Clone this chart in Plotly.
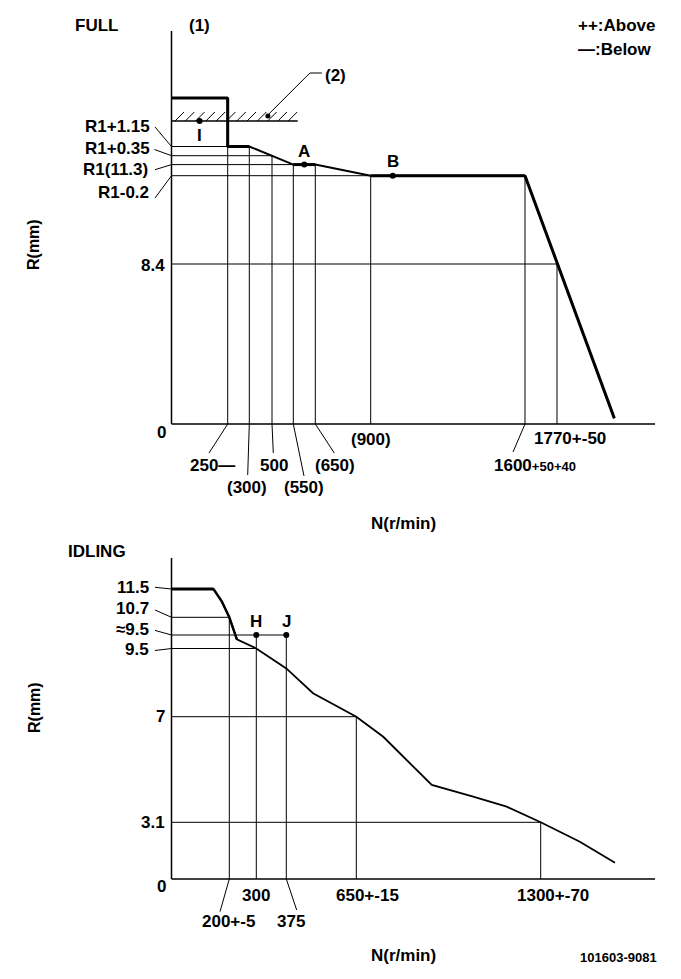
import numpy as np
import plotly.graph_objects as go

W, H = 681, 979
INK = "black"
FONT = "Liberation Sans, Arial, sans-serif"
FS = 17

# ======================= FULL (upper diagram) =======================
full_rpm = [0, 250, 250, 300, 550, 650, 900, 1600, 2080]
full_R = [14.3, 14.3, 12.45, 12.45, 11.3, 11.3, 11.1, 11.1, 0.3]
full_thick_segments = [(0, 1), (1, 2), (2, 3), (4, 5), (6, 7), (7, 8)]

full_limit_R = 13.3          # stop line (2)
full_limit_rpm_end = 570

full_point_names = ["I", "A", "B"]
full_point_rpm = [125, 600, 1000]
full_point_R = [13.3, 11.3, 11.1]

full_ytick_vals = [12.45, 11.65, 11.3, 11.1, 8.4, 0]
full_ytick_text = ["R1+1.15", "R1+0.35", "R1(11.3)", "R1-0.2", "8.4", "0"]

full_hline_R = [12.45, 11.65, 11.3, 11.1, 8.4]
full_hline_rpm_end = [250, 500, 550, 900, 1770]

full_vline_rpm = [250, 300, 500, 550, 650, 900, 1600, 1770]
full_vline_R_top = [12.45, 12.45, 11.65, 11.3, 11.3, 11.1, 11.1, 8.4]

full_xtick_vals = [250, 300, 500, 550, 650, 900, 1600, 1770]
full_xtick_text = ["250—", "(300)", "500", "(550)", "(650)", "(900)",
                   "1600<span style='font-size:13px'>+50+40</span>", "1770+-50"]

full_axis_max_rpm = 2300
full_axis_max_R = 16.0

# ======================= IDLING (lower diagram) =======================
idle_rpm = [0, 145, 174, 200, 228, 300, 375, 396, 480, 650, 745, 792, 916,
            1062, 1180, 1300, 1437, 1560]
idle_R = [11.5, 11.5, 11.15, 10.7, 9.77, 9.5, 8.77, 8.59, 7.86, 7.0, 6.26,
          5.77, 4.48, 4.05, 3.68, 3.1, 2.04, 0.89]
idle_thick_upto = 1     # index of last point of the heavy segment
idle_medium_upto = 4

idle_point_names = ["H", "J"]
idle_point_rpm = [300, 375]
idle_point_R = [9.9, 9.9]

idle_ytick_vals = [11.5, 10.7, 9.9, 9.5, 7, 3.1, 0]
idle_ytick_text = ["11.5", "10.7", "≈9.5", "9.5", "7", "3.1", "0"]

idle_hline_R = [10.7, 9.9, 9.5, 7, 3.1]
idle_hline_rpm_end = [200, 375, 300, 650, 1300]

idle_vline_rpm = [200, 300, 375, 650, 1300]
idle_vline_R_top = [10.7, 9.9, 9.9, 7, 3.1]

idle_xtick_vals = [200, 300, 375, 650, 1300]
idle_xtick_text = ["200+-5", "300", "375", "650+-15", "1300+-70"]

idle_axis_max_rpm = 1700
idle_axis_max_R = 12.8

# ---------------- schematic drawing scales (value -> px from origin) ----------------
FULL_X_SCALE_V = [0, 250, 300, 500, 550, 650, 900, 1600, 1770, 2300]
FULL_X_SCALE_P = [0, 56.2, 77.8, 100.5, 121.8, 143.8, 199.2, 353.5, 385.5, 483.5]
FULL_Y_SCALE_V = [0, 8.4, 11.1, 11.3, 11.65, 12.45, 13.3, 14.3, 16.0]
FULL_Y_SCALE_P = [0, 160, 248.3, 259.4, 268.3, 277.5, 303, 326, 393]

IDLE_X_SCALE_V = [0, 200, 300, 375, 650, 1300, 1700]
IDLE_X_SCALE_P = [0, 57.8, 84.8, 114.8, 184.8, 369.2, 483.5]
IDLE_Y_SCALE_V = [0, 3.1, 7, 9.5, 9.9, 10.7, 11.5, 12.8]
IDLE_Y_SCALE_P = [0, 56.7, 162.3, 230.5, 244, 261.7, 290, 321]

# origins of the two diagrams on the page (px)
FULL_ORIGIN = (171.5, 424)
IDLE_ORIGIN = (171.5, 879)

# label placement (pixel offsets from the tick point: dx right, dy down)
full_ylabel_layout = [(-20.5, -20.5, "right", (-16.5, -19.5)),
                      (-20.5, -7.2, "right", (-17, -6.2)),
                      (-22.5, 4.9, "right", (-16.5, 5.1)),
                      (-21.5, 16.8, "right", (-16.5, 22.3)),
                      (-5.5, 1, "right", None),
                      (-10.5, 8, "center", None)]
full_xlabel_layout = [(-15.2, 41, (-18.7, 29)), (-2.3, 63, (-1.6, 51)),
                      (1.5, 41, (1.3, 29)), (10.7, 63, (10.7, 52)),
                      (19.7, 41, (19, 29)), (0.3, 15, None),
                      (10, 41, (-12, 28)), (13, 14, None)]
idle_ylabel_layout = [(-21.5, -2, "right", (-16.5, -1.7)),
                      (-21.5, -9.3, "right", (-16.5, -7.3)),
                      (-21.5, -5.3, "right", (-16.5, -4.6)),
                      (-21.5, 1.3, "right", (-16.5, 2)),
                      (-5.5, 0, "right", None),
                      (-5.5, 0, "right", None),
                      (-10, 7, "center", None)]
idle_xlabel_layout = [(-1.3, 42, (-9.3, 32.7)), (0, 16, None),
                      (4.7, 42, (10.4, 31)), (10.7, 16, None), (12.3, 16, None)]
full_point_label_dy = [14, -13.6, -14.7]
idle_point_label_dy = [-13.3, -13.3]


def scale(v, sv, sp):
    return np.interp(np.asarray(v, dtype=float), sv, sp)


def wxf(v): return scale(v, FULL_X_SCALE_V, FULL_X_SCALE_P)
def wyf(v): return scale(v, FULL_Y_SCALE_V, FULL_Y_SCALE_P)
def wxi(v): return scale(v, IDLE_X_SCALE_V, IDLE_X_SCALE_P)
def wyi(v): return scale(v, IDLE_Y_SCALE_V, IDLE_Y_SCALE_P)


fig = go.Figure()
TOP = ("x", "y")
BOT = ("x2", "y2")


def add_line(xs, ys, ax, width=1.0):
    fig.add_trace(go.Scatter(x=list(xs), y=list(ys), mode="lines",
                             line=dict(color=INK, width=width),
                             xaxis=ax[0], yaxis=ax[1], hoverinfo="skip",
                             showlegend=False))


def add_dots(xs, ys, ax, size=6):
    fig.add_trace(go.Scatter(x=list(xs), y=list(ys), mode="markers",
                             marker=dict(color=INK, size=size),
                             xaxis=ax[0], yaxis=ax[1], hoverinfo="skip",
                             showlegend=False))


def add_text(text, ax, x, y, dx=0, dy=0, xanchor="center", size=FS, angle=0):
    fig.add_annotation(text=text, xref=ax[0], yref=ax[1], x=x, y=y,
                       xshift=dx, yshift=-dy, xanchor=xanchor, yanchor="middle",
                       showarrow=False, textangle=angle, borderpad=0,
                       font=dict(family=FONT, size=size, color=INK, weight="bold"))


def add_page_text(text, px, py, xanchor="center", size=FS, angle=0):
    fig.add_annotation(text=text, xref="paper", yref="paper", x=px / W, y=1 - py / H,
                       xanchor=xanchor, yanchor="middle", showarrow=False,
                       textangle=angle, borderpad=0,
                       font=dict(family=FONT, size=size, color=INK, weight="bold"))


def segs(xs_list, ys_list):
    X, Y = [], []
    for xs, ys in zip(xs_list, ys_list):
        X += list(xs) + [None]
        Y += list(ys) + [None]
    return X, Y


def draw(ax, wx, wy, rpm, R, hline_R, hline_end, vline_rpm, vline_top,
         ytv, ytt, ylay, xtv, xtt, xlay, pnames, prpm, pR, pdy, xmax, ymax):
    # reference grid lines
    X, Y = segs([[0, wx(e)] for e in hline_end], [[wy(r), wy(r)] for r in hline_R])
    add_line(X, Y, ax, 1)
    X, Y = segs([[wx(v), wx(v)] for v in vline_rpm], [[wy(t), 0] for t in vline_top])
    add_line(X, Y, ax, 1)
    # axes
    add_line([0, 0, None, 0, wx(xmax)], [wy(ymax), 0, None, 0, 0], ax, 1.5)
    # y labels
    for v, t, (dx, dy, xa, ld) in zip(ytv, ytt, ylay):
        add_text(t, ax, 0, float(wy(v)), dx, dy, xa)
        if ld:
            add_line([0, ld[0]], [wy(v), wy(v) - ld[1]], ax, 1)
    # x labels
    for v, t, (dx, dy, ld) in zip(xtv, xtt, xlay):
        add_text(t, ax, float(wx(v)), 0, dx, dy)
        if ld:
            add_line([wx(v), wx(v) + ld[0]], [0, -ld[1]], ax, 1)
    # points
    add_dots(wx(prpm), wy(pR), ax, 6)
    for n, x, y, d in zip(pnames, prpm, pR, pdy):
        add_text(n, ax, float(wx(x)), float(wy(y)), 0, d)


# ---------- FULL ----------
draw(TOP, wxf, wyf, full_rpm, full_R, full_hline_R, full_hline_rpm_end,
     full_vline_rpm, full_vline_R_top, full_ytick_vals, full_ytick_text,
     full_ylabel_layout, full_xtick_vals, full_xtick_text, full_xlabel_layout,
     full_point_names, full_point_rpm, full_point_R, full_point_label_dy,
     full_axis_max_rpm, full_axis_max_R)
add_line(wxf(full_rpm), wyf(full_R), TOP, 2)
X, Y = segs([[wxf(full_rpm[i]), wxf(full_rpm[j])] for i, j in full_thick_segments],
            [[wyf(full_R[i]), wyf(full_R[j])] for i, j in full_thick_segments])
add_line(X, Y, TOP, 3)

# stop line (2) with hatching
ly = float(wyf(full_limit_R))
lx_end = float(wxf(full_limit_rpm_end))
add_line([0, lx_end], [ly, ly], TOP, 1.5)
hx = np.linspace(3.5, lx_end - 9.5, 12)
X, Y = segs([[h, h + 9] for h in hx], [[ly, ly + 9] for _ in hx])
add_line(X, Y, TOP, 1)
# callout (2)
ax2 = float(wxf(455))
add_line([ax2, ax2 + 43, ax2 + 55], [ly + 5, ly + 48, ly + 48], TOP, 1)
add_dots([ax2 + 1], [ly + 5], TOP, 5)
add_text("(2)", TOP, ax2 + 69, ly + 46)

# ---------- IDLING ----------
draw(BOT, wxi, wyi, idle_rpm, idle_R, idle_hline_R, idle_hline_rpm_end,
     idle_vline_rpm, idle_vline_R_top, idle_ytick_vals, idle_ytick_text,
     idle_ylabel_layout, idle_xtick_vals, idle_xtick_text, idle_xlabel_layout,
     idle_point_names, idle_point_rpm, idle_point_R, idle_point_label_dy,
     idle_axis_max_rpm, idle_axis_max_R)
add_line(wxi(idle_rpm), wyi(idle_R), BOT, 1.8)
add_line(wxi(idle_rpm[idle_thick_upto:idle_medium_upto + 1]),
         wyi(idle_R[idle_thick_upto:idle_medium_upto + 1]), BOT, 2.4)
add_line(wxi(idle_rpm[:idle_thick_upto + 1]), wyi(idle_R[:idle_thick_upto + 1]), BOT, 3)

# ---------- page texts ----------
add_page_text("FULL", 96.5, 25)
add_page_text("(1)", 199, 25)
add_page_text("++:Above", 577, 25, "left")
add_page_text("—:Below", 577, 50, "left")
add_page_text("R(mm)", 34, 245, angle=-90, size=16)
add_page_text("N(r/min)", 404, 523)
add_page_text("IDLING", 97, 551)
add_page_text("R(mm)", 34, 708, angle=-90, size=16)
add_page_text("N(r/min)", 404, 955)
add_page_text("101603-9081", 618, 957, size=13)

ax_common = dict(visible=False, fixedrange=True, domain=[0, 1])
fig.update_layout(
    width=W, height=H, autosize=False,
    margin=dict(l=0, r=0, t=0, b=0, pad=0),
    paper_bgcolor="white", plot_bgcolor="rgba(0,0,0,0)",
    xaxis=dict(range=[-FULL_ORIGIN[0], W - FULL_ORIGIN[0]], anchor="y", **ax_common),
    yaxis=dict(range=[FULL_ORIGIN[1] - H, FULL_ORIGIN[1]], anchor="x", **ax_common),
    xaxis2=dict(range=[-IDLE_ORIGIN[0], W - IDLE_ORIGIN[0]], anchor="y2", **ax_common),
    yaxis2=dict(range=[IDLE_ORIGIN[1] - H, IDLE_ORIGIN[1]], anchor="x2", **ax_common),
    showlegend=False,
)
fig.write_html("out.html", config={"displayModeBar": False})
